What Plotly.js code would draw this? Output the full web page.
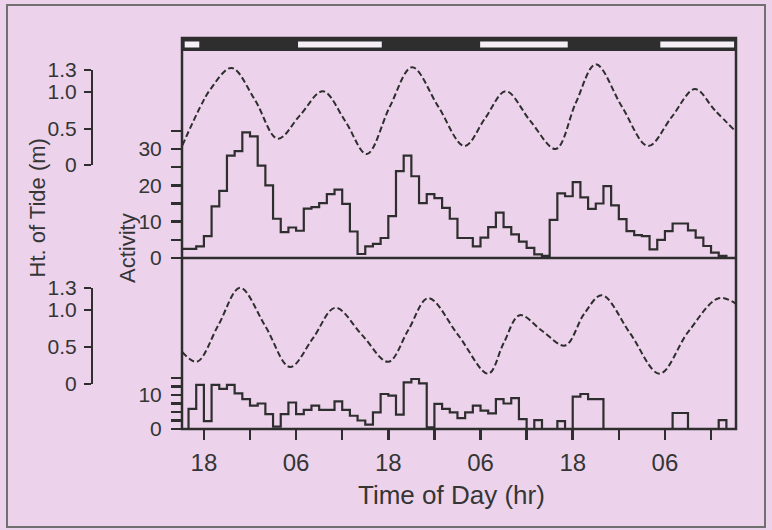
<!DOCTYPE html>
<html>
<head>
<meta charset="utf-8">
<script src="https://cdn.plot.ly/plotly-3.0.1.min.js"></script>
<style>
  html, body { margin: 0; padding: 0; background: #ecd3eb; }
  #chart { width: 772px; height: 530px; }
</style>
</head>
<body>
<div id="chart"></div>
<script>
// ---- data (hours counted from midnight of day 0; 18 = 18:00, 30 = 06:00 next day) ----
const hourBins = [15,16,17,18,19,20,21,22,23,24,25,26,27,28,29,30,31,32,33,34,35,36,37,38,39,40,
  41,42,43,44,45,46,47,48,49,50,51,52,53,54,55,56,57,58,59,60,61,62,63,64,65,66,67,68,69,70,
  71,72,73,74,75,76,77,78,79,80,81,82,83,84,85,86];
const binEnd = 87;

const topActivity = [2.5,2.5,3.2,6,14.2,18.5,28.2,29.4,34.6,33.5,25.4,20,10.8,7.1,8.4,7.5,13.6,14,15.1,17.6,
  18.8,14.9,7.3,1.1,3.2,3.9,5.5,11.5,23.9,28.2,22.5,15.1,17.6,16.5,13.8,10.8,5.5,5.5,3.2,5.6,
  8.5,12.5,8.5,6.5,4.5,2.8,1.0,0.6,10.5,17.8,17,20.9,16.7,13.5,15,19.8,14.5,10.7,7.4,6.3,
  6,2.4,5,7.4,9.5,9.5,7.6,5.6,3.3,1.5,0.6,0];

const bottomActivity = [0,5.9,13,2.3,13,11.8,13,10.5,8.8,6.9,7.5,4.4,0.7,4.4,7.8,4.4,5.6,6.9,5.6,5.6,
  8.1,5.6,3.9,2.5,1.3,4.9,10.3,9.8,4.2,13.7,14.7,13.4,0.5,7.4,5.9,4.9,3.2,4.9,6.9,5.4,
  4.6,8.8,7.5,9.1,2.9,0,2.6,0,0,2.3,0,9.5,10.3,8.8,8.8,0,0,0,0,0,
  0,0,0,0,4.7,4.7,0,0,0,0,2.6,0];

const topTideTime = [15.2,17.5,18.8,21.6,24.6,27.6,30.5,33.5,36.4,39.2,42.2,45.1,48.5,51.9,54.6,57.3,60.5,63.8,66.4,69,72.4,75.8,78.9,81.9,84.5,87.3];
const topTideHt   = [0.27,0.79,1.03,1.33,0.9,0.36,0.68,1.01,0.6,0.15,0.8,1.34,0.8,0.26,0.64,1.01,0.6,0.22,0.85,1.38,0.8,0.26,0.66,1.04,0.75,0.45];

const botTideTime = [15.2,17.1,19.9,22.7,26.0,29.2,32.2,35.1,38.6,42.0,44.6,47.2,51.1,55.0,57.0,59.1,62.0,65.0,67.5,69.8,73.5,77.3,81.0,85.0,87.3];
const botTideHt   = [0.43,0.30,0.8,1.30,0.78,0.23,0.62,1.03,0.66,0.30,0.73,1.16,0.66,0.14,0.55,0.93,0.72,0.52,0.95,1.20,0.68,0.14,0.70,1.16,1.08];

const lightStart = [15.5, 30.25, 53.95, 77.4];
const lightEnd   = [17.4, 41.15, 65.35, 87.0];

const xTickVals  = [18,24,30,36,42,48,54,60,66,72,78,84];
const xTickText  = ['18','','06','','18','','06','','18','','06',''];
const actTopTicks = [0,5,10,15,20,25,30,35];
const actTopText  = ['0','','10','','20','','30',''];
const actBotTicks = [0,2.5,5,7.5,10,12.5,15];
const actBotText  = ['0','','','','10','',''];
const tideTicks = [0,0.5,1.0,1.3];
const tideText  = ['0','0.5','1.0','1.3'];

// ---- geometry helpers (pixels -> paper) ----
const INK = '#2e2e2e';
const TXT = '#353535';
const PW = 736, TOP = 38, BOT = 429, PH = BOT - TOP;
const fy = y => (BOT - y) / PH;
const fx = x => x / PW;
const xDom0 = fx(182);
const sep = fy(258);

const step = (vals) => ({x: hourBins.concat([binEnd]), y: vals.concat([vals[vals.length-1]])});
const ta = step(topActivity), ba = step(bottomActivity);

const font = 'Liberation Sans, Arial, Helvetica, sans-serif';

const traces = [
  {x: ta.x, y: ta.y, xaxis:'x', yaxis:'y2', mode:'lines', line:{shape:'hv', color:INK, width:2.2}, hoverinfo:'skip'},
  {x: ba.x, y: ba.y, xaxis:'x', yaxis:'y', mode:'lines', line:{shape:'hv', color:INK, width:2.2}, hoverinfo:'skip'},
  {x: topTideTime, y: topTideHt, xaxis:'x', yaxis:'y3', mode:'lines', line:{shape:'spline', smoothing:1, color:INK, width:2, dash:'6px,3px'}, hoverinfo:'skip'},
  {x: botTideTime, y: botTideHt, xaxis:'x', yaxis:'y4', mode:'lines', line:{shape:'spline', smoothing:1, color:INK, width:2, dash:'6px,3px'}, hoverinfo:'skip'},
  {x:[null], y:[null], xaxis:'x', yaxis:'y5', mode:'lines', hoverinfo:'skip'},
  {x:[null], y:[null], xaxis:'x', yaxis:'y6', mode:'lines', hoverinfo:'skip'}
];

const tideAxis = (d0, d1) => ({
  domain:[d0, d1], range:[0,1.3], anchor:'free', position: fx(92), side:'left',
  tickvals: tideTicks, ticktext: tideText, ticks:'outside', ticklen:7, tickwidth:2, tickcolor:INK,
  showline:true, linecolor:INK, linewidth:2, showgrid:false, zeroline:false,
  tickfont:{size:21, color:TXT, family:font}, ticklabelstandoff:3, fixedrange:true
});

const shapes = [
  // outer frame
  {type:'rect', xref:'paper', yref:'paper', x0:fx(7), x1:fx(765), y0:fy(527), y1:fy(5), line:{color:'#707070', width:2}, layer:'below'},
  // dark light/dark bar
  {type:'rect', xref:'paper', yref:'paper', x0:xDom0, x1:1, y0:fy(51), y1:1, fillcolor:INK, line:{width:0}},
  // panel separator
  {type:'line', xref:'paper', yref:'paper', x0:xDom0, x1:1, y0:sep, y1:sep, line:{color:INK, width:2.5}},
  // box
  {type:'rect', xref:'paper', yref:'paper', x0:xDom0, x1:1, y0:0, y1:1, line:{color:INK, width:2.5}}
];
for (let i = 0; i < lightStart.length; i++) {
  shapes.push({type:'rect', xref:'x', yref:'paper', x0:lightStart[i], x1:lightEnd[i], y0:fy(47.5), y1:fy(41.5),
    fillcolor:'#f6eff6', line:{width:0}});
}

const layout = {
  width:772, height:530,
  margin:{l:0, r:36, t:TOP, b:530-BOT, pad:0},
  paper_bgcolor:'#ecd3eb', plot_bgcolor:'rgba(0,0,0,0)',
  showlegend:false,
  font:{family:font, color:TXT},
  xaxis:{domain:[xDom0,1], range:[15.15,87.25], anchor:'y', tickvals:xTickVals, ticktext:xTickText,
    ticks:'outside', ticklen:10, tickwidth:2.5, tickcolor:INK, showline:false, showgrid:false, zeroline:false,
    tickfont:{size:24, color:TXT}, ticklabelstandoff:2, fixedrange:true},
  yaxis:{domain:[0,sep], range:[0,171/3.4], anchor:'x', tickvals:actBotTicks, ticktext:actBotText,
    ticks:'outside', ticklen:10, tickwidth:2.5, tickcolor:INK, showline:false, showgrid:false, zeroline:false,
    tickfont:{size:21, color:TXT}, ticklabelstandoff:5, fixedrange:true},
  yaxis2:{domain:[sep, fy(51)], range:[0,207/3.633], anchor:'x', tickvals:actTopTicks, ticktext:actTopText,
    ticks:'outside', ticklen:10, tickwidth:2.5, tickcolor:INK, showline:false, showgrid:false, zeroline:false,
    tickfont:{size:21, color:TXT}, ticklabelstandoff:5, fixedrange:true},
  yaxis3:{overlaying:'y2', range:[(165-258)/73,(165-51)/73], visible:false, fixedrange:true},
  yaxis4:{overlaying:'y', range:[(384-429)/74,(384-258)/74], visible:false, fixedrange:true},
  yaxis5: tideAxis(fy(165), fy(70.1)),
  yaxis6: tideAxis(fy(384), fy(287.8)),
  shapes: shapes,
  annotations:[
    {text:'Ht. of Tide (m)', xref:'paper', yref:'paper', x:fx(37), y:fy(208.5), textangle:-90, showarrow:false,
      xanchor:'center', yanchor:'middle', font:{size:22, color:TXT}},
    {text:'Activity', xref:'paper', yref:'paper', x:fx(127), y:fy(248), textangle:-90, showarrow:false,
      xanchor:'center', yanchor:'middle', font:{size:22, color:TXT}},
    {text:'Time of Day (hr)', xref:'paper', yref:'paper', x:fx(452), y:fy(495), showarrow:false,
      xanchor:'center', yanchor:'middle', font:{size:26, color:TXT}}
  ]
};

Plotly.newPlot('chart', traces, layout, {staticPlot:true, displayModeBar:false});
</script>
</body>
</html>
